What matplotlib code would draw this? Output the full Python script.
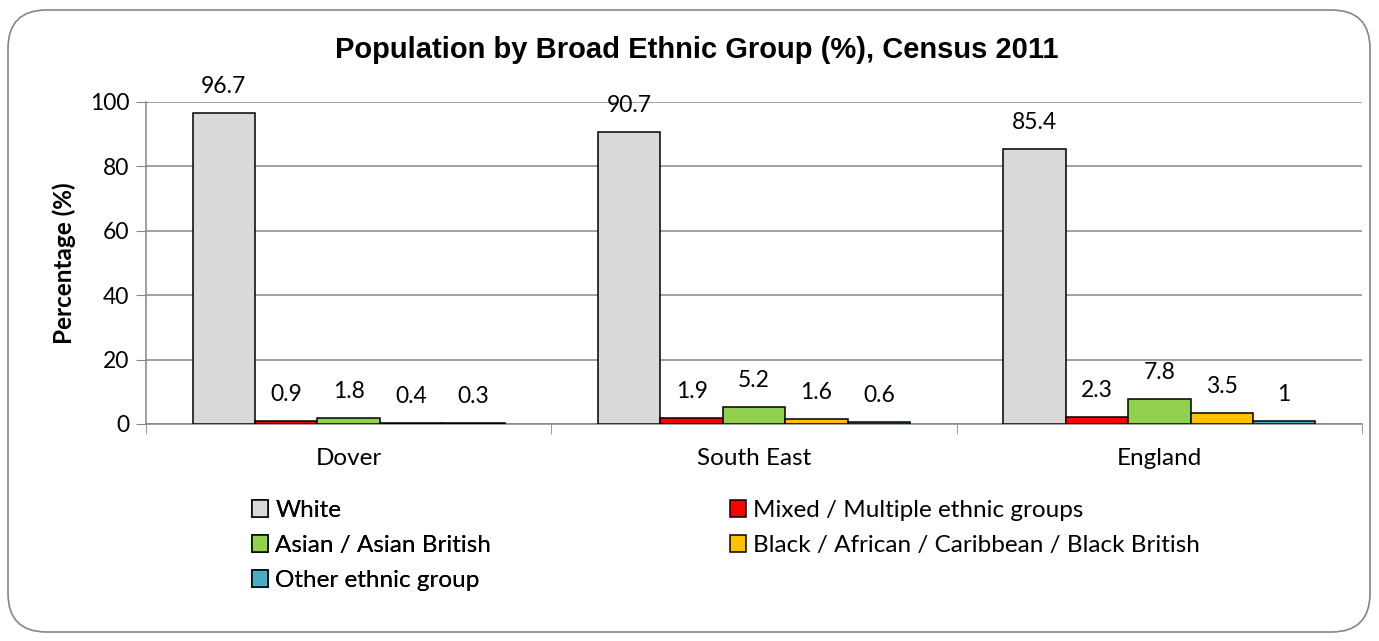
import numpy as np
import matplotlib.pyplot as plt
from matplotlib.patches import FancyBboxPatch

plt.rcParams['font.family'] = ['Lato', 'DejaVu Sans']

# ------------------------------------------------------------
# Data: Census 2011 broad ethnic groups (%)
# ------------------------------------------------------------
areas = ["Dover", "South East", "England"]
groups = ["White", "Mixed / Multiple ethnic groups", "Asian / Asian British",
          "Black / African / Caribbean / Black British", "Other ethnic group"]
white = [96.7, 90.7, 85.4]
mixed = [0.9, 1.9, 2.3]
asian = [1.8, 5.2, 7.8]
black = [0.4, 1.6, 3.5]
other = [0.3, 0.6, 1]
colors = ["#D9D9D9", "#FF0000", "#92D050", "#FFC000", "#4BACC6"]

series = [white, mixed, asian, black, other]

W, H = 1379, 641
fig = plt.figure(figsize=(W / 100, H / 100), dpi=100)
ax = fig.add_axes([146/W, 1-424/H, (1362-146)/W, 322/H])

# rounded chart border
fig.patches.append(FancyBboxPatch((8/W, 9/H), 1362/W, 622/H,
                                  boxstyle="round,pad=0,rounding_size=0.028",
                                  transform=fig.transFigure, fill=False,
                                  edgecolor="#868686", linewidth=1.2,
                                  mutation_aspect=W/H))

x = np.arange(len(areas))
w = 0.154
handles = []
for i, (vals, lab, col) in enumerate(zip(series, groups, colors)):
    pos = x + (i - 2) * w
    b = ax.bar(pos, vals, w, color=col, edgecolor="black", linewidth=1.1,
               label=lab, zorder=3)
    handles.append(b)
    for px, v in zip(pos, vals):
        ax.annotate(f"{v:g}", (px, v), xytext=(0, 19), textcoords="offset points",
                    ha="center", va="center", fontsize=16.5)

ax.set_xlim(-0.5, 2.5)
ax.set_ylim(0, 100)
ax.set_yticks(range(0, 101, 20))
ax.set_xticks(x)
ax.set_xticklabels(areas)
ax.set_xticks([-0.5, 0.5, 1.5, 2.5], minor=True)
ax.tick_params(axis="x", which="major", length=0, pad=17, labelsize=17.5)
ax.tick_params(axis="x", which="minor", length=7, color="#868686", direction="out")
ax.tick_params(axis="y", length=7, color="#868686", labelsize=16.5, pad=5)
ax.grid(axis="y", color="#868686", linewidth=1.1, zorder=0)
for s in ["top", "right"]:
    ax.spines[s].set_visible(False)
for s in ["left", "bottom"]:
    ax.spines[s].set_color("#868686")
    ax.spines[s].set_linewidth(1.1)

ax.set_ylabel("Percentage (%)", fontsize=17.5, fontweight="bold", labelpad=10)
fig.text(697/W, 1-50/H, "Population by Broad Ethnic Group (%), Census 2011",
         ha="center", va="center", fontsize=21, fontweight="bold",
         family="Liberation Sans")

# legend: two columns placed separately (row-major order like the original)
leg_kw = dict(loc="upper left", frameon=False, fontsize=17.5, handlelength=0.66,
              handleheight=0.66, handletextpad=0.3, labelspacing=0.58,
              borderaxespad=0, borderpad=0)
col1 = [0, 2, 4]
col2 = [1, 3]
leg1 = fig.legend([handles[i] for i in col1], [groups[i] for i in col1],
                  bbox_to_anchor=(252/W, 1-500/H), **leg_kw)
fig.add_artist(leg1)
fig.legend([handles[i] for i in col2], [groups[i] for i in col2],
           bbox_to_anchor=(730/W, 1-500/H), **leg_kw)

fig.savefig("out.png", dpi=100)
